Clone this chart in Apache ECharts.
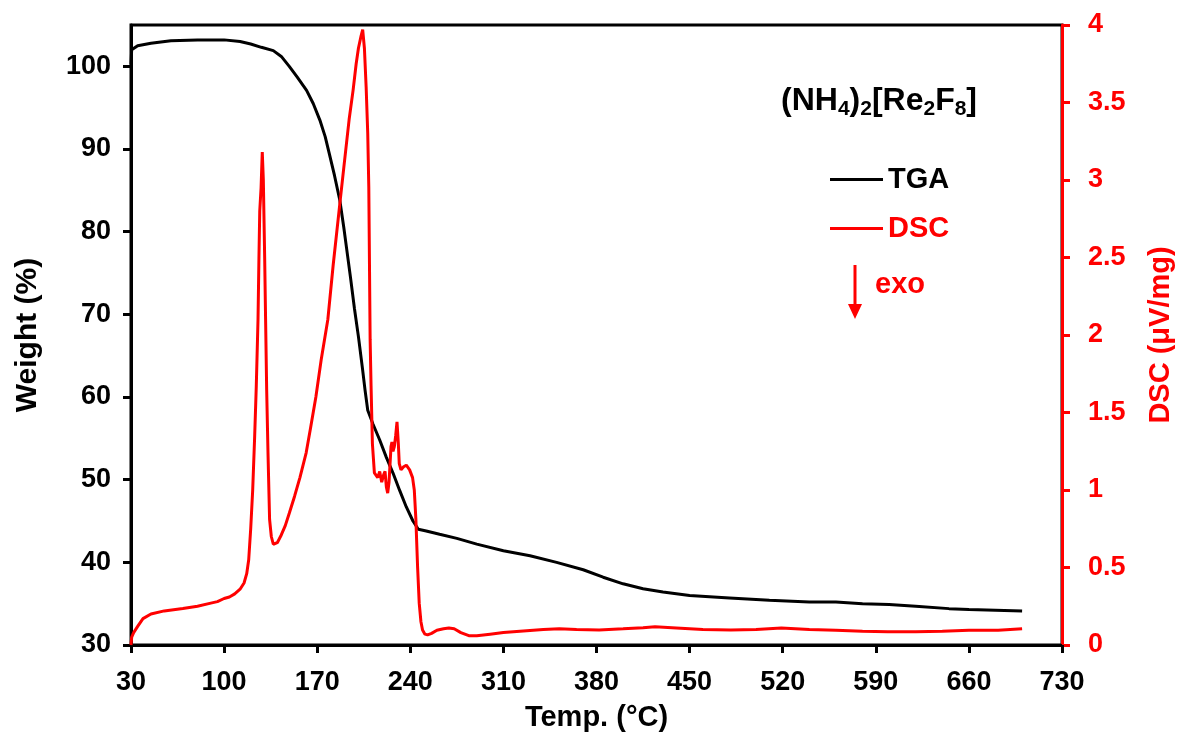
<!DOCTYPE html>
<html>
<head>
<meta charset="utf-8">
<script src="https://cdn.jsdelivr.net/npm/echarts@6/dist/echarts.min.js"></script>
<style>html,body{margin:0;padding:0;background:#fff}#c{width:1183px;height:742px}</style>
</head>
<body>
<div id="c"></div>
<script>
const tgaTemp = [30,30.5,35,45,60,80,100,112,120,128,137,143,149,155,162,167,172,176,179,183,187,190,192,195,198,201,204,206,208,212,217,222,227,232,237,242,246,252,262,275,290,310,330,350,370,385,400,415,430,450,480,510,540,560,580,600,620,645,660,680,700];
const tgaWeight = [100.2,102.0,102.5,102.8,103.1,103.2,103.2,103.0,102.7,102.3,101.9,101.2,100.0,98.7,97.1,95.5,93.5,91.5,89.5,86.8,83.8,80.5,78.1,74.5,70.7,67.3,63.5,60.8,58.4,56.7,54.8,52.7,50.8,48.7,46.7,45.0,44.0,43.8,43.4,42.9,42.2,41.4,40.8,40.0,39.1,38.2,37.4,36.8,36.4,36.0,35.7,35.4,35.2,35.2,35.0,34.9,34.7,34.4,34.3,34.2,34.1];
const dscTemp = [30,30.5,32,35,39,45,55,69,80,90,95,100,104,108,112,115,117,118.5,120,121.5,123,124.2,125.5,126.2,126.8,127.8,128.7,129.5,130.5,131.2,132,133,134.2,135.5,137,138,140,143,146,149,153,157,161.7,165,169,173,178,182,186.8,190,194,197,199.3,201,203,204.2,205.5,206.8,208,208.8,209.8,210.5,211.5,213,214,215.5,217,218.5,220,221,222,223,224,225.5,226.2,227,228,229,230,231,231.7,233,235,237,239.5,241.7,243,244.2,245.5,246.7,248,249.2,251,253,256,260,265,269,273,278,284,290,300,310,325,340,352,365,382,400,415,424,440,460,481,500,519,540,560,580,599,620,640,660,682,700];
const dscValue = [0.0,0.05,0.08,0.12,0.17,0.2,0.22,0.235,0.25,0.27,0.28,0.3,0.31,0.33,0.36,0.40,0.46,0.55,0.75,1.0,1.35,1.67,2.1,2.5,2.8,2.95,3.18,3.0,2.5,2.1,1.65,1.24,0.81,0.7,0.65,0.645,0.66,0.71,0.77,0.85,0.96,1.08,1.24,1.40,1.6,1.84,2.1,2.45,2.83,3.08,3.39,3.58,3.75,3.85,3.93,3.97,3.85,3.6,3.3,2.95,1.97,1.67,1.3,1.11,1.1,1.08,1.12,1.05,1.1,1.12,1.02,0.98,1.05,1.28,1.31,1.25,1.28,1.35,1.44,1.3,1.17,1.13,1.15,1.16,1.13,1.08,1.0,0.81,0.5,0.27,0.15,0.097,0.07,0.065,0.075,0.095,0.105,0.11,0.105,0.08,0.06,0.06,0.07,0.08,0.09,0.1,0.105,0.1,0.097,0.105,0.112,0.117,0.11,0.1,0.097,0.1,0.11,0.1,0.095,0.088,0.085,0.085,0.088,0.095,0.095,0.105];
const xTicks = {min:30, max:730, interval:70};
const leftTicks = {min:30, max:105, interval:10};
const rightTicks = {min:0, max:4, interval:0.5};

const FONT = '"Liberation Sans", Arial, sans-serif';
const chart = echarts.init(document.getElementById('c'), null, {renderer:'canvas'});
const zip = (a,b) => a.map((v,i)=>[v,b[i]]);
chart.setOption({
  animation:false,
  backgroundColor:'#fff',
  grid:{left:131, right:119, top:25, bottom:97, show:true, borderColor:'#000', borderWidth:3, backgroundColor:'transparent'},
  xAxis:{
    type:'value', min:xTicks.min, max:xTicks.max, interval:xTicks.interval,
    name:'Temp. (°C)', nameLocation:'middle', nameGap:58,
    nameTextStyle:{fontFamily:FONT, fontWeight:'bold', fontSize:29, color:'#000'},
    axisLine:{show:true, onZero:false, lineStyle:{color:'#000', width:3}},
    axisTick:{show:true, inside:false, length:8, lineStyle:{color:'#000', width:3}},
    axisLabel:{fontFamily:FONT, fontWeight:'bold', fontSize:27, color:'#000', margin:24},
    splitLine:{show:false}
  },
  yAxis:[{
    type:'value', position:'left', min:leftTicks.min, max:leftTicks.max, interval:leftTicks.interval,
    name:'Weight (%)', nameLocation:'middle', nameGap:88,
    nameTextStyle:{fontFamily:FONT, fontWeight:'bold', fontSize:30, color:'#000'},
    axisLine:{show:true, onZero:false, lineStyle:{color:'#000', width:3}},
    axisTick:{show:true, length:8, lineStyle:{color:'#000', width:3}},
    axisLabel:{fontFamily:FONT, fontWeight:'bold', fontSize:27, color:'#000', margin:20, showMaxLabel:false,
      formatter:v=> v>100 ? '' : String(v)},
    splitLine:{show:false}
  },{
    type:'value', position:'right', min:rightTicks.min, max:rightTicks.max, interval:rightTicks.interval,
    name:'DSC (μV/mg)', nameLocation:'middle', nameGap:84, nameRotate:90,
    nameTextStyle:{fontFamily:FONT, fontWeight:'bold', fontSize:29, color:'#ff0000'},
    axisLine:{show:true, onZero:false, lineStyle:{color:'#ff0000', width:3}},
    axisTick:{show:true, length:8, lineStyle:{color:'#ff0000', width:3}},
    axisLabel:{fontFamily:FONT, fontWeight:'bold', fontSize:27, color:'#ff0000', margin:26},
    splitLine:{show:false}
  }],
  legend:{
    orient:'vertical', left:825, top:160, itemGap:20, itemWidth:53, itemHeight:3, icon:'rect',
    textStyle:{fontFamily:FONT, fontWeight:'bold', fontSize:29, padding:[0,0,0,0]},
    data:[{name:'TGA', textStyle:{color:'#000'}},{name:'DSC', textStyle:{color:'#ff0000'}}]
  },
  graphic:[
    {type:'text', left:781, top:85, style:{
      text:'(NH{s|4}){s|2}[Re{s|2}F{s|8}]',
      font:'bold 32px '+FONT, fill:'#000',
      rich:{s:{fontSize:21, fontWeight:'bold', fontFamily:FONT, fill:'#000', verticalAlign:'bottom', padding:[16,0,0,0]}}
    }},
    {type:'line', shape:{x1:855, y1:265, x2:855, y2:306}, style:{stroke:'#ff0000', lineWidth:3}},
    {type:'polygon', shape:{points:[[848,304],[862,304],[855,319]]}, style:{fill:'#ff0000'}},
    {type:'text', left:875, top:270, style:{text:'exo', font:'bold 29px '+FONT, fill:'#ff0000'}}
  ],
  series:[
    {name:'TGA', type:'line', yAxisIndex:0, data:zip(tgaTemp,tgaWeight), showSymbol:false, symbol:'none',
      lineStyle:{color:'#000', width:3}, itemStyle:{color:'#000'}, z:3},
    {name:'DSC', type:'line', yAxisIndex:1, data:zip(dscTemp,dscValue), showSymbol:false, symbol:'none',
      lineStyle:{color:'#ff0000', width:3}, itemStyle:{color:'#ff0000'}, z:4}
  ]
});
</script>
</body>
</html>
